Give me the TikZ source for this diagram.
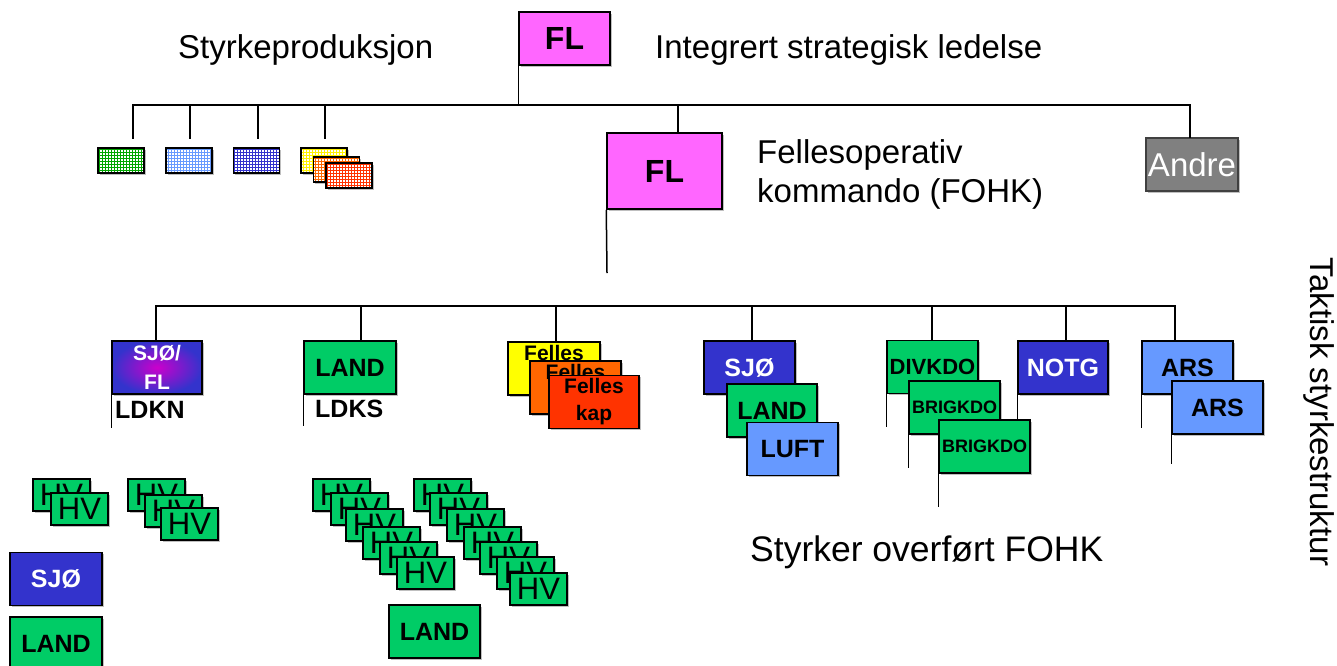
\documentclass[tikz,border=0pt]{standalone}
\usepackage{fontspec}
\setmainfont{Liberation Sans}
\usetikzlibrary{patterns,shadows}
\newcommand{\fsz}[1]{\fontsize{#1}{#1}\selectfont}
\definecolor{flpink}{HTML}{FF66FF}
\definecolor{grn}{HTML}{00CC66}
\definecolor{sjoblue}{HTML}{3333CC}
\definecolor{lblue}{HTML}{6699FF}
\definecolor{yel}{HTML}{FFFF00}
\definecolor{org}{HTML}{FF6600}
\definecolor{rd}{HTML}{FF3300}
\definecolor{magc}{HTML}{CC00CC}
\definecolor{andregray}{HTML}{808080}
\begin{document}
\begin{tikzpicture}[x=1pt,y=-1pt,
  wire/.style={line width=1.5pt, line cap=rect},
  boxshadow/.style={drop shadow={shadow xshift=1.6pt, shadow yshift=-1.6pt, fill=black!25, opacity=1}},
  box/.style={draw, line width=1.5pt, inner sep=0pt, minimum width=91pt, minimum height=53pt,
    align=center, font=\bfseries\fsz{25}, boxshadow},
  hvbox/.style={draw, line width=1.3pt, fill=grn, inner sep=0pt, minimum width=57pt,
    minimum height=32pt, font=\fsz{31}, boxshadow},
  patbox/.style={draw, line width=1.3pt, inner sep=0pt, minimum width=46pt, minimum height=25pt,
    boxshadow, preaction={fill=white}, pattern=grid},
  lbl/.style={inner sep=0pt, font=\fsz{33}},
  pole/.style={line width=1.5pt}]
\useasboundingbox (0,0) rectangle (1337,665);
\clip (0,0) rectangle (1337,665);

% --- top level ---
\node[box, fill=flpink, font=\bfseries\fsz{32}] (flTop) at (564.5,38.5) {FL};
\node[lbl, anchor=base west] (lStyrkeprod) at (178,58) {Styrkeproduksjon};
\node[lbl, anchor=base west] (lIntegrert) at (655,58) {Integrert strategisk ledelse};

\coordinate (b1w) at (133,105);
\coordinate (b1e) at (1190,105);
\coordinate (jfl) at (678,105);
\draw[wire] (b1w) -- (b1e);
\draw[wire] (flTop.south west) -- (flTop.south west |- b1w);

% force production branches
\foreach \x [count=\i] in {133,190,258,325} {
  \coordinate (st\i) at (\x,138);
  \draw[wire] (st\i |- b1w) -- (st\i);
}
\node[patbox, pattern color=green!65!black] (pGreen) at (121,160.5) {};
\node[patbox, pattern color=lblue] (pBlue) at (189,160.5) {};
\node[patbox, pattern color=sjoblue] (pPurple) at (256.5,160.5) {};
\node[patbox, pattern color=yel!90!orange] (pYellow) at (324,160.5) {};
\node[patbox, pattern color=org] (pOrange) at (336.5,169.5) {};
\node[patbox, pattern color=rd] (pRed) at (349,175.5) {};

% joint operational command
\node[box, fill=flpink, minimum width=115pt, minimum height=76pt, font=\bfseries\fsz{32}] (fl2) at (664.5,171) {FL};
\draw[wire] (jfl) -- (jfl |- fl2.north);
\node[lbl, anchor=base west] (lFelles1) at (757,163) {Fellesoperativ};
\node[lbl, anchor=base west] (lFelles2) at (757,202) {kommando (FOHK)};
\coordinate (fl2end) at (607,273);
\draw[pole] (fl2.south west) -- (fl2end);

\node[box, draw=black!75, line width=1.2pt, fill=andregray, text=white, font=\fsz{33}, minimum width=92pt] (andre) at (1192,164.5) {Andre};
\draw[wire] (b1e) -- (b1e |- andre.north);

% --- tactical structure ---
\node[box, inner color=magc, outer color=sjoblue, text=white, font=\bfseries\fontsize{21}{29}\selectfont, minimum width=90pt] (sjofl) at (157,367.5) {SJØ/\\FL};
\draw[pole] (sjofl.south west) -- ++(0,33);
\node[anchor=base west, inner sep=0pt, font=\bfseries\fsz{25}] (ldkn) at (115,418) {LDKN};

\node[box, fill=grn, minimum width=92pt] (landA) at (350,367.5) {LAND};
\draw[pole] (landA.south west) -- ++(0,31);
\node[anchor=base west, inner sep=0pt, font=\bfseries\fsz{25}] (ldks) at (315,417) {LDKS};

\node[box, fill=yel, minimum width=92pt, font=\bfseries\fontsize{21}{27}\selectfont] (fellesA) at (554,368.5) {Felles\\kap};
\node[box, fill=org, font=\bfseries\fontsize{21}{27}\selectfont] (fellesB) at (575.5,387.5) {Felles\\kap};
\node[box, fill=rd, minimum width=90pt, font=\bfseries\fontsize{21}{27}\selectfont] (fellesC) at (594,402) {Felles\\kap};

\node[box, fill=sjoblue, text=white] (sjoB) at (749.5,367.5) {SJØ};
\node[box, fill=grn, minimum width=90pt] (landB) at (772,410.5) {LAND};
\node[box, fill=lblue] (luft) at (792.5,449) {LUFT};

\node[box, fill=grn, font=\bfseries\fsz{22}] (divkdo) at (932.5,367) {DIVKDO};
\draw[pole] (divkdo.south west) -- ++(0,33);
\node[box, fill=grn, font=\bfseries\fsz{18}] (brigA) at (954.5,407.5) {BRIGKDO};
\draw[pole] (brigA.south west) -- ++(0,33);
\node[box, fill=sjoblue, text=white, minimum width=90pt] (notg) at (1063,367.5) {NOTG};
\draw[pole] (notg.south west) -- ++(0,35);
\node[box, fill=grn, font=\bfseries\fsz{18}] (brigB) at (984.5,446.5) {BRIGKDO};
\draw[pole] (brigB.south west) -- ++(0,33);

\node[box, fill=lblue] (arsA) at (1187.5,367.5) {ARS};
\draw[pole] (arsA.south west) -- ++(0,33);
\node[box, fill=lblue] (arsB) at (1217.5,407.5) {ARS};
\draw[pole] (arsB.south west) -- ++(0,29);

\coordinate (b2w) at (156,306);
\coordinate (b2e) at (1175,306);
\draw[wire] (b2w) -- (b2e);
\foreach \x/\n in {156/sjofl, 361/landA, 556/fellesA, 752/sjoB, 932/divkdo, 1066/notg, 1175/arsA} {
  \coordinate (tap) at (\x,306);
  \draw[wire] (tap) -- (tap |- \n.north);
}

\node[lbl, anchor=base west, font=\fsz{35.5}] (lOverfort) at (750,561) {Styrker overført FOHK};
\node[lbl, rotate=-90] (lTaktisk) at (1319,412) {Taktisk styrkestruktur};

% --- home guard and local units ---
\foreach \x/\y [count=\i] in {33/479,51/493}
  {\node[hvbox] (hvA\i) at (\x+28.5,\y+16) {HV};}
\foreach \x/\y [count=\i] in {128/479,145/495,161/508}
  {\node[hvbox] (hvB\i) at (\x+28.5,\y+16) {HV};}
\foreach \x/\y [count=\i] in {313/479,331/493,346/509,363/527,380/542,397/557}
  {\node[hvbox] (hvC\i) at (\x+28.5,\y+16) {HV};}
\foreach \x/\y [count=\i] in {414/479,430/493,447/509,464/527,480/542,497/557,510/573}
  {\node[hvbox] (hvD\i) at (\x+28.5,\y+16) {HV};}

\node[box, fill=sjoblue, text=white, minimum width=92pt] (sjoC) at (56,579) {SJØ};
\node[box, fill=grn, minimum width=92pt] (landC) at (56,643.5) {LAND};
\node[box, fill=grn] (landD) at (434.5,631.5) {LAND};
\end{tikzpicture}
\end{document}
